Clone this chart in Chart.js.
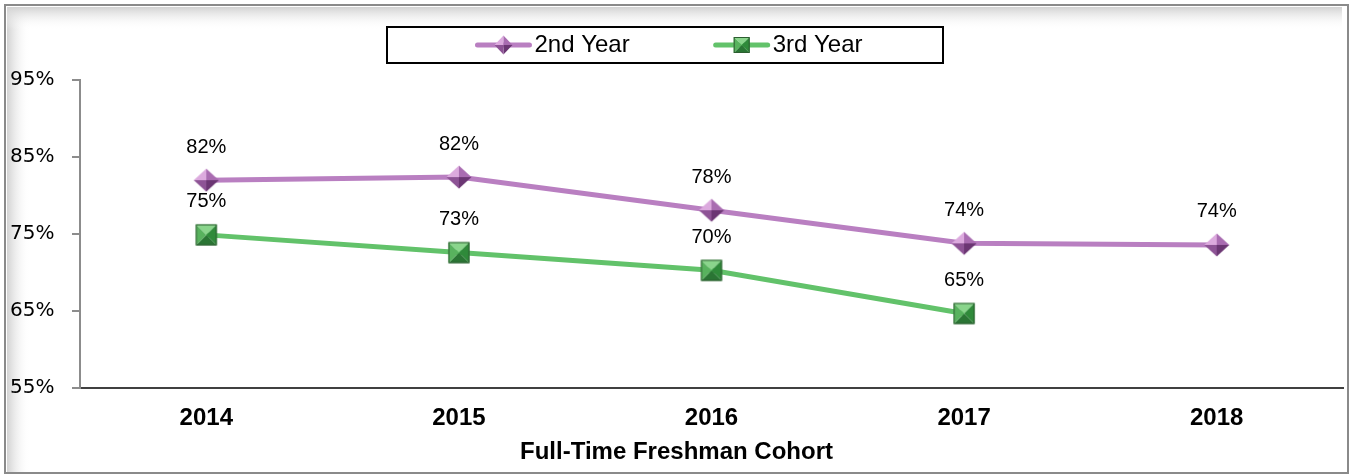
<!DOCTYPE html>
<html>
<head>
<meta charset="utf-8">
<script src="https://cdn.jsdelivr.net/npm/chart.js@4"></script>
<style>
  html, body { margin: 0; padding: 0; background: #fff; }
  canvas { display: block; }
</style>
</head>
<body>
<canvas id="chart" width="1351" height="475"></canvas>
<script>
const cohorts = ['2014', '2015', '2016', '2017', '2018'];
const secondYear = [82.0, 82.4, 78.1, 73.8, 73.6];
const thirdYear = [74.9, 72.6, 70.3, 64.7, null];
const yTicks = [55, 65, 75, 85, 95];
const seriesNames = ['2nd Year', '3rd Year'];
const axisTitle = 'Full-Time Freshman Cohort';

const purple = '#b97fc1';
const green = '#62c26a';
const arial = '"Liberation Sans", Arial, sans-serif';

// beveled diamond marker
function drawDiamond(ctx, cx, cy, w, h) {
    const t = [cx, cy - h / 2], r = [cx + w / 2, cy], b = [cx, cy + h / 2], l = [cx - w / 2, cy], c = [cx, cy];
    const faces = [
        [l, t, '#dcaade'],
        [t, r, '#a96cb1'],
        [r, b, '#6b3673'],
        [b, l, '#8d5395']
    ];
    faces.forEach(f => {
        ctx.beginPath();
        ctx.moveTo(f[0][0], f[0][1]);
        ctx.lineTo(f[1][0], f[1][1]);
        ctx.lineTo(c[0], c[1]);
        ctx.closePath();
        ctx.fillStyle = f[2];
        ctx.fill();
    });
}

// beveled square marker
function drawSquare(ctx, cx, cy, s) {
    const h = s / 2;
    const tl = [cx - h, cy - h], tr = [cx + h, cy - h], br = [cx + h, cy + h], bl = [cx - h, cy + h], c = [cx, cy];
    const faces = [
        [tl, tr, '#8ad58c'],
        [tr, br, '#2f8a3a'],
        [br, bl, '#2a7534'],
        [bl, tl, '#58b25e']
    ];
    faces.forEach(f => {
        ctx.beginPath();
        ctx.moveTo(f[0][0], f[0][1]);
        ctx.lineTo(f[1][0], f[1][1]);
        ctx.lineTo(c[0], c[1]);
        ctx.closePath();
        ctx.fillStyle = f[2];
        ctx.fill();
    });
    ctx.strokeStyle = '#2c5e30';
    ctx.lineWidth = 1;
    ctx.strokeRect(cx - h + 0.5, cy - h + 0.5, s - 1, s - 1);
}

function makeIcon(kind) {
    const cv = document.createElement('canvas');
    cv.width = 26;
    cv.height = 26;
    const ctx = cv.getContext('2d');
    if (kind === 'diamond') drawDiamond(ctx, 13, 13, 25, 23);
    else drawSquare(ctx, 13, 13, 21);
    return cv;
}

const diamondIcon = makeIcon('diamond');
const squareIcon = makeIcon('square');

const frame = {
    id: 'frame',
    beforeDraw(chart) {
        const ctx = chart.ctx;
        const w = chart.width, h = chart.height;
        ctx.save();
        ctx.fillStyle = '#fff';
        ctx.fillRect(0, 0, w, h);
        let g = ctx.createLinearGradient(7, 0, 30, 0);
        g.addColorStop(0, '#d2d2d2');
        g.addColorStop(1, 'rgba(255,255,255,0)');
        ctx.fillStyle = g;
        ctx.fillRect(7, 7, 23, h - 10);
        g = ctx.createLinearGradient(0, 7, 0, 30);
        g.addColorStop(0, '#d2d2d2');
        g.addColorStop(1, 'rgba(255,255,255,0)');
        ctx.fillStyle = g;
        ctx.fillRect(7, 7, w - 16, 23);
        ctx.strokeStyle = '#8a8a8a';
        ctx.lineWidth = 2;
        ctx.strokeRect(5, 5, w - 8, h - 7);
        ctx.restore();
    }
};

const boxedLegend = {
    id: 'boxedLegend',
    afterDraw(chart) {
        const ctx = chart.ctx;
        ctx.save();
        ctx.font = '24px ' + arial;
        const widths = seriesNames.map(n => ctx.measureText(n).width);
        const lineLen = 56, gap = 3, between = 84;
        const total = lineLen + gap + widths[0] + between + lineLen + gap + widths[1];
        const cy = 45;
        ctx.strokeStyle = '#000';
        ctx.lineWidth = 2;
        ctx.strokeRect(387, cy - 18, 556, 36);
        let x = 669 - total / 2;
        const colors = [purple, green];
        seriesNames.forEach((name, i) => {
            ctx.strokeStyle = colors[i];
            ctx.lineWidth = 5;
            ctx.lineCap = 'round';
            ctx.beginPath();
            ctx.moveTo(x + 2, cy);
            ctx.lineTo(x + lineLen - 2, cy);
            ctx.stroke();
            if (i === 0) drawDiamond(ctx, x + lineLen / 2, cy, 18, 19);
            else drawSquare(ctx, x + lineLen / 2, cy, 16);
            x += lineLen + gap;
            ctx.fillStyle = '#000';
            ctx.textAlign = 'left';
            ctx.textBaseline = 'middle';
            ctx.fillText(name, x, cy);
            x += widths[i] + between;
        });
        ctx.restore();
    }
};

const valueLabels = {
    id: 'valueLabels',
    afterDatasetsDraw(chart) {
        const ctx = chart.ctx;
        ctx.save();
        ctx.font = '20px ' + arial;
        ctx.fillStyle = '#000';
        ctx.textAlign = 'center';
        ctx.textBaseline = 'middle';
        chart.data.datasets.forEach((ds, i) => {
            chart.getDatasetMeta(i).data.forEach((pt, j) => {
                const v = ds.data[j];
                if (v == null) return;
                ctx.fillText(Math.round(v) + '%', pt.x, pt.y - 33);
            });
        });
        ctx.restore();
    }
};

new Chart(document.getElementById('chart'), {
    type: 'line',
    data: {
        labels: cohorts,
        datasets: [
            {
                label: seriesNames[0],
                data: secondYear,
                borderColor: purple,
                borderWidth: 5,
                pointStyle: diamondIcon,
                pointRadius: 12,
                tension: 0
            },
            {
                label: seriesNames[1],
                data: thirdYear,
                borderColor: green,
                borderWidth: 5,
                pointStyle: squareIcon,
                pointRadius: 11,
                tension: 0
            }
        ]
    },
    options: {
        responsive: false,
        animation: false,
        layout: { autoPadding: false, padding: { top: 80, left: 10, right: 8, bottom: 8 } },
        plugins: {
            legend: { display: false },
            tooltip: { enabled: false },
            title: {
                display: true,
                position: 'bottom',
                text: axisTitle,
                color: '#000',
                padding: { top: 6, bottom: 0 },
                font: { family: arial, size: 24, weight: 'bold' }
            }
        },
        scales: {
            x: {
                offset: true,
                afterFit(scale) {
                    scale.paddingLeft = 0;
                    scale.paddingRight = 0;
                    scale.height = 44;
                },
                grid: { drawOnChartArea: false, drawTicks: false },
                border: { color: '#404040', width: 2 },
                ticks: {
                    color: '#000',
                    padding: 16,
                    font: { family: arial, size: 24, weight: 'bold' }
                }
            },
            y: {
                min: yTicks[0],
                max: yTicks[yTicks.length - 1],
                afterBuildTicks(scale) {
                    scale.ticks = yTicks.map(v => ({ value: v }));
                },
                afterFit(scale) {
                    scale.width = 70;
                },
                grid: { drawOnChartArea: false, tickLength: 8, color: '#8c8c8c', lineWidth: 2 },
                border: { color: '#8c8c8c', width: 2 },
                ticks: {
                    color: '#000',
                    crossAlign: 'far',
                    font: { family: '"DejaVu Sans", sans-serif', size: 20 },
                    callback: v => v + '%'
                }
            }
        }
    },
    plugins: [frame, valueLabels, boxedLegend]
});
</script>
</body>
</html>
